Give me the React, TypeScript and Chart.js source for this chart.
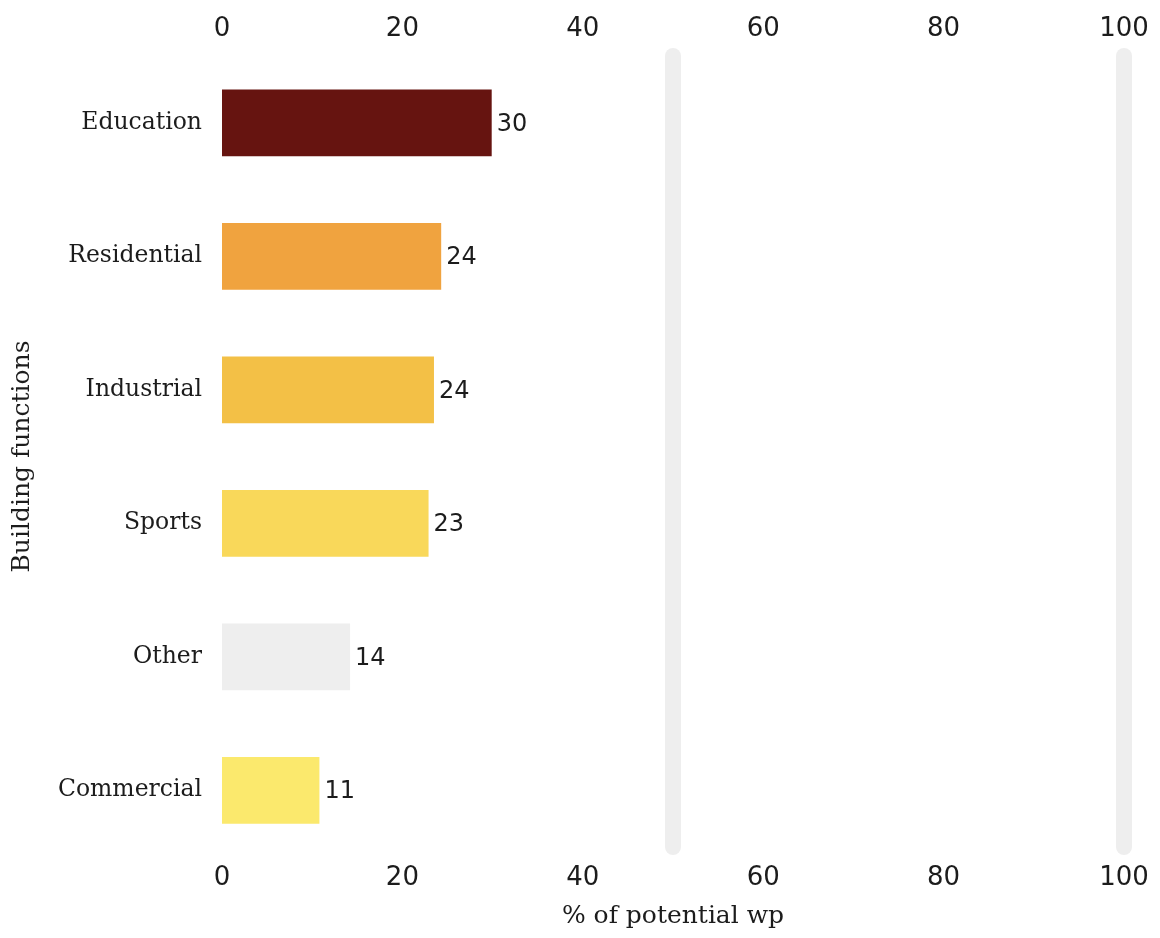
import React, { useEffect, useRef } from "react";
import { Chart, registerables } from "chart.js";

Chart.register(...registerables);

const categories = ["Education", "Residential", "Industrial", "Sports", "Other", "Commercial"];
const values = [29.9, 24.3, 23.5, 22.9, 14.2, 10.8];
const valueLabels = ["30", "24", "24", "23", "14", "11"];
const barColors = ["#661410", "#F0A33F", "#F3C046", "#F9D85A", "#EEEEEE", "#FBE96D"];
const guideValues = [50, 100];
const xTitle = "% of potential wp";
const yTitle = "Building functions";

const TEXT = "#1c1c1c";
const SERIF = '"DejaVu Serif", serif';
const SANS = '"DejaVu Sans", sans-serif';

export default function App() {
  const ref = useRef<HTMLCanvasElement | null>(null);

  useEffect(() => {
    if (!ref.current) return;

    const guidePlugin = {
      id: "guides",
      beforeDatasetsDraw(chart: any) {
        const { ctx, chartArea, scales } = chart;
        ctx.save();
        ctx.strokeStyle = "#EEEEEE";
        ctx.lineWidth = 16;
        ctx.lineCap = "round";
        guideValues.forEach((v) => {
          const x = scales.x.getPixelForValue(v);
          ctx.beginPath();
          ctx.moveTo(x, chartArea.top);
          ctx.lineTo(x, chartArea.bottom - 10);
          ctx.stroke();
        });
        ctx.restore();
      },
    };

    const valuePlugin = {
      id: "values",
      afterDatasetsDraw(chart: any) {
        const { ctx } = chart;
        const meta = chart.getDatasetMeta(0);
        ctx.save();
        ctx.font = `24px ${SANS}`;
        ctx.fillStyle = TEXT;
        ctx.textAlign = "left";
        ctx.textBaseline = "middle";
        meta.data.forEach((bar: any, i: number) => {
          ctx.fillText(valueLabels[i], bar.x + 5, bar.y + 2);
        });
        ctx.restore();
      },
    };

    const chart = new Chart(ref.current, {
      type: "bar",
      data: {
        labels: categories,
        datasets: [
          {
            data: values,
            backgroundColor: barColors,
            borderWidth: 0,
            barPercentage: 0.5,
            categoryPercentage: 1,
          },
        ],
      },
      options: {
        indexAxis: "y",
        responsive: false,
        animation: false,
        layout: { padding: { left: 0, right: 36, top: 0, bottom: 0 } },
        plugins: {
          legend: { display: false },
          tooltip: { enabled: false },
        },
        scales: {
          x: {
            type: "linear",
            position: "bottom",
            min: 0,
            max: 100,
            ticks: { stepSize: 20, color: TEXT, font: { family: SANS, size: 26 }, padding: -2 },
            grid: { display: false },
            border: { display: false },
            title: {
              display: true,
              text: xTitle,
              color: TEXT,
              font: { family: SERIF, size: 25 },
              padding: { top: 0, bottom: 7 },
            },
            afterFit(s: any) {
              s.height = 81;
            },
          },
          xTop: {
            type: "linear",
            position: "top",
            min: 0,
            max: 100,
            ticks: { stepSize: 20, color: TEXT, font: { family: SANS, size: 26 }, padding: 3 },
            grid: { display: false },
            border: { display: false },
            afterFit(s: any) {
              s.height = 56;
            },
          },
          y: {
            type: "category",
            ticks: { color: TEXT, font: { family: SERIF, size: 23.5 }, padding: 12 },
            grid: { display: false },
            border: { display: false },
            title: {
              display: true,
              text: yTitle,
              color: TEXT,
              font: { family: SERIF, size: 25 },
              padding: { top: 7, bottom: 0 },
            },
            afterFit(s: any) {
              s.width = 222;
            },
          },
        },
      } as any,
      plugins: [guidePlugin, valuePlugin],
    });

    return () => chart.destroy();
  }, []);

  return (
    <div style={{ position: "absolute", left: 0, top: 0, width: 1160, height: 938, background: "#fff" }}>
      <canvas ref={ref} width={1160} height={938} />
    </div>
  );
}
